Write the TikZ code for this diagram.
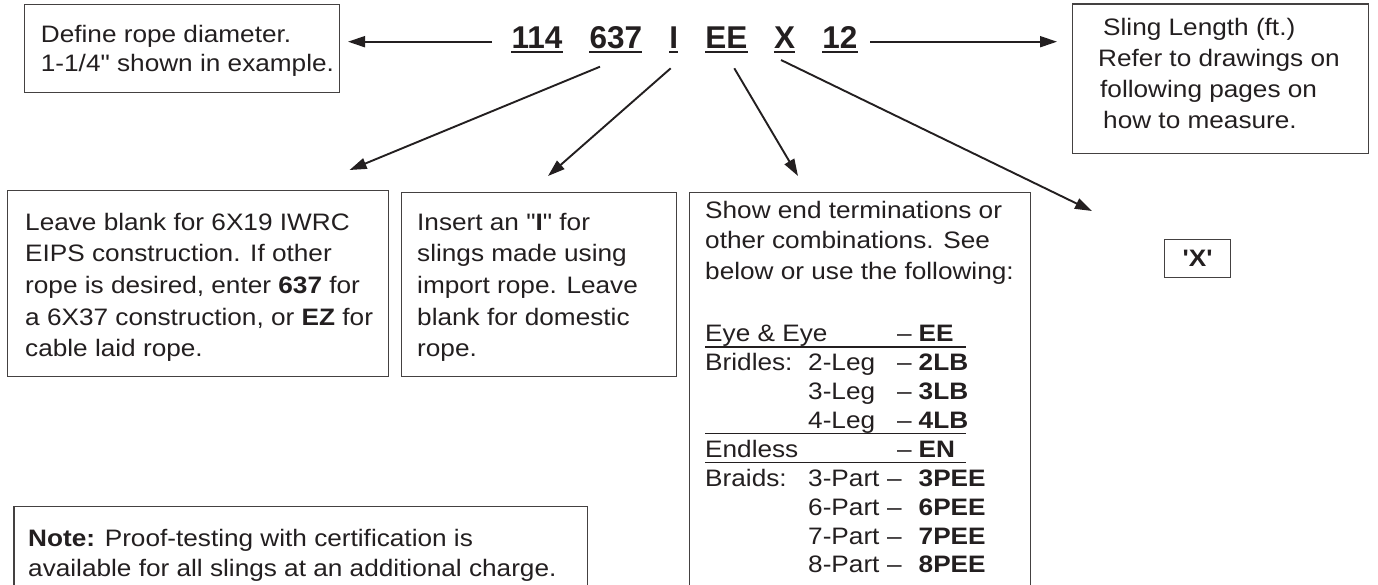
\documentclass[tikz,border=0pt]{standalone}
\usepackage{fontspec}
\setmainfont{Liberation Sans}
\newfontfamily\bodyfont{Liberation Sans}[FakeStretch=1.1]
\newfontfamily\codefont{Liberation Sans}
\usetikzlibrary{arrows.meta}
\definecolor{ink}{HTML}{231F20}
\begin{document}
\begin{tikzpicture}[x=1pt,y=-1pt,
  box/.style={draw=ink!85, line width=1.3pt, inner sep=0, anchor=north west},
  txt/.style={anchor=north west, inner sep=0, align=left, text=ink},
  tb/.style={anchor=base west, inner sep=0, text=ink, font=\bodyfont\fontsize{23.8}{28}\selectfont},
  tbb/.style={tb, font=\bodyfont\fontsize{23.8}{28}\selectfont\bfseries},
  code/.style={anchor=base, inner sep=0, text=ink, font=\codefont\bfseries\fontsize{31.5}{36}\selectfont},
  uline/.style={draw=ink, line width=2.4pt},
  rule/.style={draw=ink, line width=1.4pt},
  arr/.style={draw=ink, line width=1.9pt, -{Triangle[length=17pt,width=11pt]}}]
\fill[white] (0,0) rectangle (1378,585);
\useasboundingbox (0,0) rectangle (1378,585);
\clip (0,0) rectangle (1378,585);

% code line
\node[code] (t114) at (537,49) {114};
\node[code] (t637) at (615.8,49) {637};
\node[code] (tI) at (673.7,49) {I};
\node[code] (tEE) at (726.3,49) {EE};
\node[code] (tX) at (784.5,49) {X};
\node[code] (t12) at (839.8,49) {12};
\foreach \t in {t114,t637,tI,tEE,tX,t12}
  \draw[uline] ([yshift=-3.3pt]\t.base west) -- ([yshift=-3.3pt]\t.base east);

% boxes
\node[box, minimum width=315pt, minimum height=88pt] (boxA) at (24,4) {};
\node[box, minimum width=296pt, minimum height=149.4pt] (boxB) at (1072,3.3) {};
\node[box, minimum width=381.5pt, minimum height=186pt] (boxC) at (6.5,190) {};
\node[box, minimum width=274.5pt, minimum height=184pt] (boxD) at (401,191.7) {};
\node[box, minimum width=341pt, minimum height=420pt] (boxE) at (689,191.7) {};
\node[box, minimum width=66pt, minimum height=38pt] (boxX) at (1164,239) {};
\node[box, minimum width=573.7pt, minimum height=100pt] (boxN) at (13.3,506) {};

% box texts
\node[txt, font=\bodyfont\fontsize{23.8}{29.3}\selectfont] (txtA) at (40.7,24.8)
  {Define rope diameter.\\1-1/4" shown in example.};
\node[txt, font=\bodyfont\fontsize{23.8}{31.1}\selectfont] (txtB) at (1098,17.8)
  {\hspace*{5pt}Sling Length (ft.)\\Refer to drawings on\\\hspace*{2pt}following pages on\\\hspace*{5pt}how to measure.};
\node[txt, font=\bodyfont\fontsize{23.8}{31.6}\selectfont] (txtC) at (25,212.8)
  {Leave blank for 6X19 IWRC\\EIPS construction. If other\\rope is desired, enter \textbf{637} for\\a 6X37 construction, or \textbf{EZ} for\\cable laid rope.};
\node[txt, font=\bodyfont\fontsize{23.8}{31.6}\selectfont] (txtD) at (417,212.8)
  {Insert an "\textbf{I}" for\\slings made using\\import rope. Leave\\blank for domestic\\rope.};
\node[txt, font=\bodyfont\fontsize{23.8}{30.5}\selectfont] (txtE) at (705,200.8)
  {Show end terminations or\\other combinations. See\\below or use the following:};
\node[txt, font=\bodyfont\fontsize{23.8}{29.5}\selectfont] (txtN) at (28,529.3)
  {\textbf{Note:} Proof-testing with certification is\\available for all slings at an additional charge.};
\node[inner sep=0, text=ink, font=\bodyfont\fontsize{23.8}{28}\selectfont\bfseries] (txtX) at (boxX.center)
  {'X'};

% table
\node[tb] (e1a) at (705,341.7) {Eye \& Eye};
\node[tb] (e1d) at (897,341.7) {\textendash};
\node[tbb] (e1c) at (918.5,341.7) {EE};
\draw[rule] (705,346.9) -- (966,346.9);
\node[tb] (e2a) at (705,370.6) {Bridles:};
\node[tb] (e2b) at (808,370.6) {2-Leg};
\node[tb] (e2d) at (897,370.6) {\textendash};
\node[tbb] (e2c) at (918.5,370.6) {2LB};
\node[tb] (e3b) at (808,399.5) {3-Leg};
\node[tb] (e3d) at (897,399.5) {\textendash};
\node[tbb] (e3c) at (918.5,399.5) {3LB};
\node[tb] (e4b) at (808,428.4) {4-Leg};
\node[tb] (e4d) at (897,428.4) {\textendash};
\node[tbb] (e4c) at (918.5,428.4) {4LB};
\draw[rule] (705,433.6) -- (966,433.6);
\node[tb] (e5a) at (705,457.3) {Endless};
\node[tb] (e5d) at (897,457.3) {\textendash};
\node[tbb] (e5c) at (918.5,457.3) {EN};
\draw[rule] (705,462.5) -- (966,462.5);
\node[tb] (e6a) at (705,486.2) {Braids:};
\node[tb] (e6b) at (808,486.2) {3-Part};
\node[tb] (e6d) at (887,486.2) {\textendash};
\node[tbb] (e6c) at (918.5,486.2) {3PEE};
\node[tb] (e7b) at (808,515.1) {6-Part};
\node[tb] (e7d) at (887,515.1) {\textendash};
\node[tbb] (e7c) at (918.5,515.1) {6PEE};
\node[tb] (e8b) at (808,544) {7-Part};
\node[tb] (e8d) at (887,544) {\textendash};
\node[tbb] (e8c) at (918.5,544) {7PEE};
\node[tb] (e9b) at (808,572.9) {8-Part};
\node[tb] (e9d) at (887,572.9) {\textendash};
\node[tbb] (e9c) at (918.5,572.9) {8PEE};

% connector end points
\coordinate (sL) at (492,41.7);
\coordinate (eL) at (348,41.7);
\coordinate (sR) at (870,41.7);
\coordinate (eR) at (1057,41.7);
\coordinate (s1) at (600,66.7);
\coordinate (e1) at (349.6,170);
\coordinate (s2) at (670.7,68.3);
\coordinate (e2) at (548,176);
\coordinate (s3) at (734.3,68.3);
\coordinate (e3) at (798,176);
\coordinate (s4) at (781,60);
\coordinate (e4) at (1092,211);

\draw[arr] (sL) -- (eL);
\draw[arr] (sR) -- (eR);
\draw[arr] (s1) -- (e1);
\draw[arr] (s2) -- (e2);
\draw[arr] (s3) -- (e3);
\draw[arr] (s4) -- (e4);
\end{tikzpicture}
\end{document}
